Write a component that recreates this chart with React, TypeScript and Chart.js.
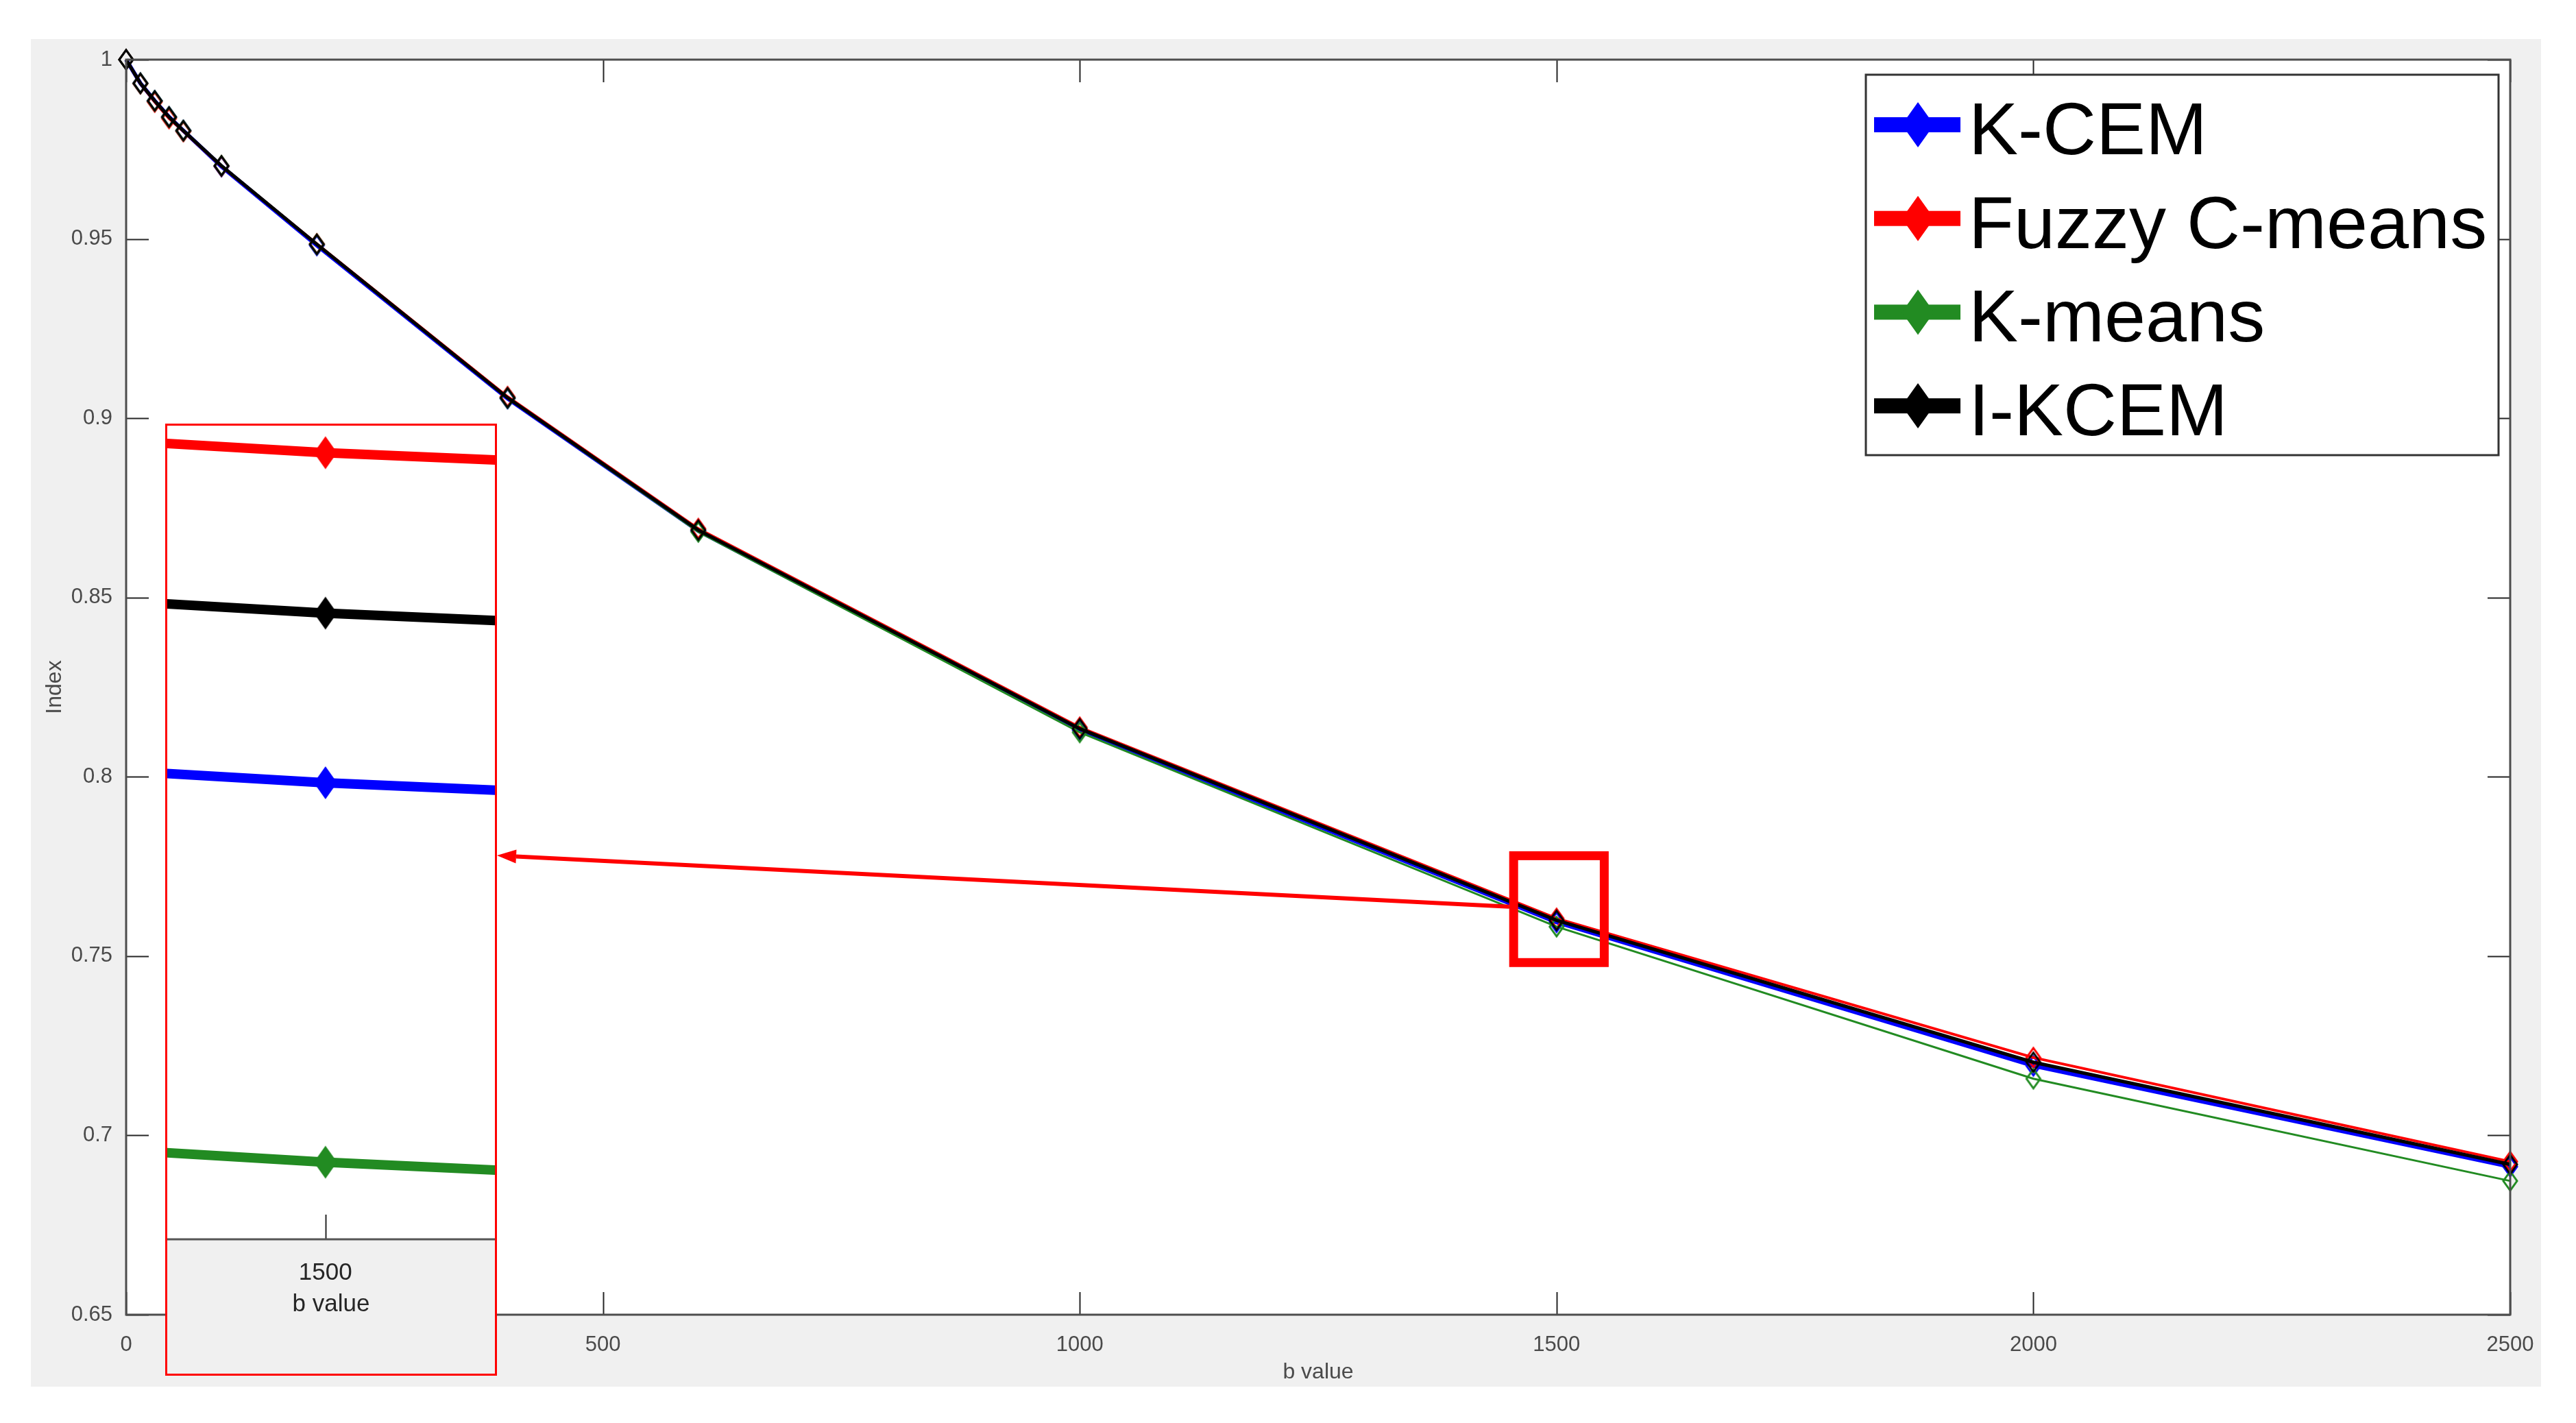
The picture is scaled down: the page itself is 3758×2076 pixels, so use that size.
import React, { useEffect, useRef } from "react";
import { Chart, registerables, LinearScale } from "chart.js";

Chart.register(...registerables);

// Linear scale without the int16 pixel clamp, so that the zoomed inset can
// draw its lines from the real data points far outside its tiny window.
class FreeLinearScale extends (LinearScale as any) {
  static id = "freeLinear";
  static defaults = (LinearScale as any).defaults;
  getPixelForDecimal(decimal: number) {
    const self = this as any;
    if (self._reversePixels) decimal = 1 - decimal;
    return self._startPixel + decimal * self._length;
  }
}
Chart.register(FreeLinearScale as any);

// ---------------- data ----------------
const B_VALUES = [0, 15, 30, 45, 60, 100, 200, 400, 600, 1000, 1500, 2000, 2500];
const KCEM = [1.0, 0.9934, 0.9885, 0.984, 0.9802, 0.9702, 0.9482, 0.9055, 0.8686, 0.813, 0.75943, 0.7194, 0.6913];
const FCM = [1.0, 0.9933, 0.9882, 0.9836, 0.98, 0.9703, 0.9486, 0.906, 0.8692, 0.8138, 0.7605, 0.7217, 0.6927];
const KMEANS = [1.0, 0.9934, 0.9885, 0.984, 0.9802, 0.9704, 0.9485, 0.9056, 0.8683, 0.8124, 0.7582, 0.7158, 0.6873];
const IKCEM = [1.0, 0.9934, 0.9885, 0.984, 0.9802, 0.9704, 0.9485, 0.9057, 0.8688, 0.8134, 0.75998, 0.7204, 0.6919];
const SERIES_NAMES = ["K-CEM", "Fuzzy C-means", "K-means", "I-KCEM"];
const SERIES_VALUES = [KCEM, FCM, KMEANS, IKCEM];
const SERIES_COLORS = ["#0000ff", "#ff0000", "#228b22", "#000000"];
const X_TICKS = [0, 500, 1000, 1500, 2000, 2500];
const Y_TICKS = [1, 0.95, 0.9, 0.85, 0.8, 0.75, 0.7, 0.65];
const INSET_X_TICKS = [1500];
const X_TITLE = "b value";
const Y_TITLE = "Index";

// ---------------- layout / style ----------------
const W = 3758;
const H = 2076;
const AREA = { left: 184, right: 3662, top: 87, bottom: 1918 };
const GRAY_BOX = { left: 45, top: 57, right: 3707, bottom: 2023 };
const FONT = '"Liberation Sans", Arial, Helvetica, sans-serif';
const MAIN_LINE_WIDTHS = [6, 4, 3, 5];
const DRAW_ORDER = [4, 3, 2, 1];
const INSET = { x: 241, y: 618, w: 484, h: 1389, axisY: 1808 };
const INSET_RANGE = { xmin: 1499.72, xmax: 1500.3, ymin: 0.75795, ymax: 0.76059 };
const ZOOM_BOX = { b0: 1455, b1: 1550, v0: 0.7482, v1: 0.778 };
const ARROW_START_V = 0.7638;
const ARROW_END_Y = 1248;

function diamond(color: string, w: number, h: number, filled: boolean, lw: number) {
  const c = document.createElement("canvas");
  const pad = Math.ceil(lw) + 1;
  c.width = w + pad * 2;
  c.height = h + pad * 2;
  const g = c.getContext("2d")!;
  g.beginPath();
  g.moveTo(c.width / 2, pad);
  g.lineTo(c.width - pad, c.height / 2);
  g.lineTo(c.width / 2, c.height - pad);
  g.lineTo(pad, c.height / 2);
  g.closePath();
  if (filled) {
    g.fillStyle = color;
    g.fill();
  } else {
    g.strokeStyle = color;
    g.lineWidth = lw;
    g.stroke();
  }
  return c;
}

function points(values: number[]) {
  return B_VALUES.map((b, i) => ({ x: b, y: values[i] }));
}

function drawDiamondPath(ctx: CanvasRenderingContext2D, cx: number, cy: number, w: number, h: number) {
  ctx.beginPath();
  ctx.moveTo(cx, cy - h / 2);
  ctx.lineTo(cx + w / 2, cy);
  ctx.lineTo(cx, cy + h / 2);
  ctx.lineTo(cx - w / 2, cy);
  ctx.closePath();
}

const mainDecor = {
  id: "mainDecor",
  beforeDraw(chart: any) {
    const ctx = chart.ctx as CanvasRenderingContext2D;
    const a = chart.chartArea;
    ctx.save();
    ctx.fillStyle = "#ffffff";
    ctx.fillRect(0, 0, W, H);
    ctx.fillStyle = "#f0f0f0";
    ctx.fillRect(GRAY_BOX.left, GRAY_BOX.top, GRAY_BOX.right - GRAY_BOX.left, GRAY_BOX.bottom - GRAY_BOX.top);
    ctx.fillStyle = "#ffffff";
    ctx.fillRect(a.left, a.top, a.right - a.left, a.bottom - a.top);
    ctx.restore();
  },
  afterDatasetsDraw(chart: any) {
    const ctx = chart.ctx as CanvasRenderingContext2D;
    const a = chart.chartArea;
    const xs = chart.scales.x;
    const ys = chart.scales.y;
    ctx.save();
    // ticks (inward on all sides)
    ctx.strokeStyle = "#262626";
    ctx.lineWidth = 2;
    const tl = 33;
    for (const t of xs.ticks) {
      const px = Math.round(xs.getPixelForValue(t.value)) + 0.5;
      ctx.beginPath();
      ctx.moveTo(px, a.bottom);
      ctx.lineTo(px, a.bottom - tl);
      ctx.moveTo(px, a.top);
      ctx.lineTo(px, a.top + tl);
      ctx.stroke();
    }
    for (const t of ys.ticks) {
      const py = Math.round(ys.getPixelForValue(t.value)) + 0.5;
      ctx.beginPath();
      ctx.moveTo(a.left, py);
      ctx.lineTo(a.left + tl, py);
      ctx.moveTo(a.right, py);
      ctx.lineTo(a.right - tl, py);
      ctx.stroke();
    }
    // axes box
    ctx.strokeStyle = "#4d4d4d";
    ctx.lineWidth = 3;
    ctx.strokeRect(a.left, a.top, a.right - a.left, a.bottom - a.top);

    // zoom box
    const bx0 = xs.getPixelForValue(ZOOM_BOX.b0);
    const bx1 = xs.getPixelForValue(ZOOM_BOX.b1);
    const by0 = ys.getPixelForValue(ZOOM_BOX.v1);
    const by1 = ys.getPixelForValue(ZOOM_BOX.v0);
    ctx.strokeStyle = "#ff0000";
    ctx.lineWidth = 13;
    ctx.strokeRect(bx0, by0, bx1 - bx0, by1 - by0);

    // arrow
    const sx = bx0 - 6.5;
    const sy = ys.getPixelForValue(ARROW_START_V);
    const ex = INSET.x + INSET.w;
    const ey = ARROW_END_Y;
    const ang = Math.atan2(ey - sy, ex - sx);
    const headLen = 28;
    const headHalf = 10;
    const hx = ex - headLen * Math.cos(ang);
    const hy = ey - headLen * Math.sin(ang);
    ctx.strokeStyle = "#ff0000";
    ctx.lineWidth = 6;
    ctx.beginPath();
    ctx.moveTo(sx, sy);
    ctx.lineTo(hx, hy);
    ctx.stroke();
    ctx.fillStyle = "#ff0000";
    ctx.beginPath();
    ctx.moveTo(ex, ey);
    ctx.lineTo(hx + headHalf * Math.sin(ang), hy - headHalf * Math.cos(ang));
    ctx.lineTo(hx - headHalf * Math.sin(ang), hy + headHalf * Math.cos(ang));
    ctx.closePath();
    ctx.fill();
    ctx.restore();
  },
  afterDraw(chart: any) {
    const ctx = chart.ctx as CanvasRenderingContext2D;
    ctx.save();
    // legend
    const L = { left: 2722, top: 109, right: 3645, bottom: 664 };
    ctx.fillStyle = "#ffffff";
    ctx.fillRect(L.left, L.top, L.right - L.left, L.bottom - L.top);
    ctx.strokeStyle = "#333333";
    ctx.lineWidth = 3;
    ctx.strokeRect(L.left, L.top, L.right - L.left, L.bottom - L.top);
    ctx.font = `108px ${FONT}`;
    ctx.textAlign = "left";
    ctx.textBaseline = "alphabetic";
    SERIES_NAMES.forEach((name, i) => {
      const cy = 182 + i * 136.7;
      const col = SERIES_COLORS[i];
      ctx.fillStyle = col;
      ctx.fillRect(2734, cy - 11, 126, 22);
      drawDiamondPath(ctx, 2798, cy, 47, 66);
      ctx.fill();
      ctx.fillStyle = "#000000";
      ctx.fillText(name, 2872, cy + 43);
    });
    ctx.restore();
  },
};

const insetDecor = {
  id: "insetDecor",
  beforeDraw(chart: any) {
    const ctx = chart.ctx as CanvasRenderingContext2D;
    const a = chart.chartArea;
    ctx.save();
    ctx.fillStyle = "#f0f0f0";
    ctx.fillRect(0, 0, INSET.w, INSET.h);
    ctx.fillStyle = "#ffffff";
    ctx.fillRect(a.left, a.top, a.right - a.left, a.bottom - a.top);
    ctx.restore();
  },
  afterDraw(chart: any) {
    const ctx = chart.ctx as CanvasRenderingContext2D;
    const a = chart.chartArea;
    const xs = chart.scales.x;
    ctx.save();
    ctx.strokeStyle = "#262626";
    ctx.lineWidth = 2;
    for (const t of xs.ticks) {
      const px = Math.round(xs.getPixelForValue(t.value)) + 0.5;
      ctx.beginPath();
      ctx.moveTo(px, a.bottom);
      ctx.lineTo(px, a.bottom - 36);
      ctx.stroke();
    }
    ctx.strokeStyle = "#555555";
    ctx.lineWidth = 3;
    ctx.beginPath();
    ctx.moveTo(a.left, a.bottom);
    ctx.lineTo(a.right, a.bottom);
    ctx.stroke();
    ctx.strokeStyle = "#ff0000";
    ctx.lineWidth = 3;
    ctx.strokeRect(1.5, 1.5, INSET.w - 3, INSET.h - 3);
    ctx.restore();
  },
};

function mainConfig(): any {
  return {
    type: "line",
    data: {
      datasets: SERIES_NAMES.map((name, i) => ({
        label: name,
        data: points(SERIES_VALUES[i]),
        borderColor: SERIES_COLORS[i],
        backgroundColor: SERIES_COLORS[i],
        borderWidth: MAIN_LINE_WIDTHS[i],
        pointStyle: diamond(SERIES_COLORS[i], 20, 28, false, 3),
        pointRadius: 10,
        tension: 0,
        fill: false,
        clip: false,
        order: DRAW_ORDER[i],
      })),
    },
    options: {
      animation: false,
      responsive: false,
      maintainAspectRatio: false,
      devicePixelRatio: 1,
      events: [],
      layout: { autoPadding: false, padding: { left: 0, right: W - AREA.right, top: AREA.top, bottom: 0 } },
      plugins: { legend: { display: false }, tooltip: { enabled: false } },
      scales: {
        x: {
          type: "linear",
          min: 0,
          max: 2500,
          grid: { display: false },
          border: { display: false },
          afterBuildTicks: (s: any) => {
            s.ticks = X_TICKS.map((v) => ({ value: v }));
          },
          afterFit: (s: any) => {
            s.height = H - AREA.bottom;
          },
          ticks: {
            autoSkip: false,
            maxRotation: 0,
            padding: 18,
            color: "#4a4a4a",
            font: { family: FONT, size: 31 },
            callback: (v: any) => String(v),
          },
          title: {
            display: true,
            text: X_TITLE,
            color: "#4a4a4a",
            font: { family: FONT, size: 32 },
            padding: { top: 0, bottom: 55 },
          },
        },
        y: {
          type: "linear",
          min: 0.65,
          max: 1,
          grid: { display: false },
          border: { display: false },
          afterBuildTicks: (s: any) => {
            s.ticks = Y_TICKS.map((v) => ({ value: v }));
          },
          afterFit: (s: any) => {
            s.width = AREA.left;
          },
          ticks: {
            autoSkip: false,
            padding: 12,
            color: "#4a4a4a",
            font: { family: FONT, size: 31 },
            callback: (v: any) => String(Number(Number(v).toFixed(2))),
          },
          title: {
            display: true,
            text: Y_TITLE,
            color: "#4a4a4a",
            font: { family: FONT, size: 32 },
            padding: { top: 61, bottom: 0 },
          },
        },
      },
    },
    plugins: [mainDecor],
  };
}

function insetConfig(): any {
  return {
    type: "line",
    data: {
      datasets: SERIES_NAMES.map((name, i) => ({
        label: name,
        data: points(SERIES_VALUES[i]),
        borderColor: SERIES_COLORS[i],
        backgroundColor: SERIES_COLORS[i],
        borderWidth: 14,
        pointStyle: diamond(SERIES_COLORS[i], 34, 48, true, 0),
        pointRadius: 10,
        tension: 0,
        fill: false,
        clip: 0,
        order: DRAW_ORDER[i],
      })),
    },
    options: {
      animation: false,
      responsive: false,
      maintainAspectRatio: false,
      devicePixelRatio: 1,
      events: [],
      layout: { autoPadding: false, padding: { left: 3, right: 3, top: 2, bottom: 0 } },
      plugins: { legend: { display: false }, tooltip: { enabled: false } },
      scales: {
        x: {
          type: "freeLinear",
          min: INSET_RANGE.xmin,
          max: INSET_RANGE.xmax,
          grid: { display: false },
          border: { display: false },
          afterBuildTicks: (s: any) => {
            s.ticks = INSET_X_TICKS.map((v) => ({ value: v }));
          },
          afterFit: (s: any) => {
            s.height = INSET.y + INSET.h - INSET.axisY;
            s.paddingLeft = 0;
            s.paddingRight = 0;
          },
          ticks: {
            autoSkip: false,
            maxRotation: 0,
            padding: 20,
            color: "#262626",
            font: { family: FONT, size: 35 },
            callback: (v: any) => String(Math.round(Number(v))),
          },
          title: {
            display: true,
            text: X_TITLE,
            color: "#262626",
            font: { family: FONT, size: 35 },
            padding: { top: 0, bottom: 83 },
          },
        },
        y: {
          type: "freeLinear",
          display: false,
          min: INSET_RANGE.ymin,
          max: INSET_RANGE.ymax,
        },
      },
    },
    plugins: [insetDecor],
  };
}

export default function App() {
  const mainRef = useRef<HTMLCanvasElement>(null);
  const insetRef = useRef<HTMLCanvasElement>(null);
  useEffect(() => {
    const main = new Chart(mainRef.current as HTMLCanvasElement, mainConfig());
    const inset = new Chart(insetRef.current as HTMLCanvasElement, insetConfig());
    return () => {
      main.destroy();
      inset.destroy();
    };
  }, []);
  return (
    <div style={{ position: "fixed", left: 0, top: 0, width: W, height: H, background: "#ffffff", overflow: "hidden" }}>
      <canvas
        ref={mainRef}
        width={W}
        height={H}
        style={{ position: "absolute", left: 0, top: 0, width: W, height: H }}
      />
      <canvas
        ref={insetRef}
        width={INSET.w}
        height={INSET.h}
        style={{ position: "absolute", left: INSET.x, top: INSET.y, width: INSET.w, height: INSET.h }}
      />
    </div>
  );
}
